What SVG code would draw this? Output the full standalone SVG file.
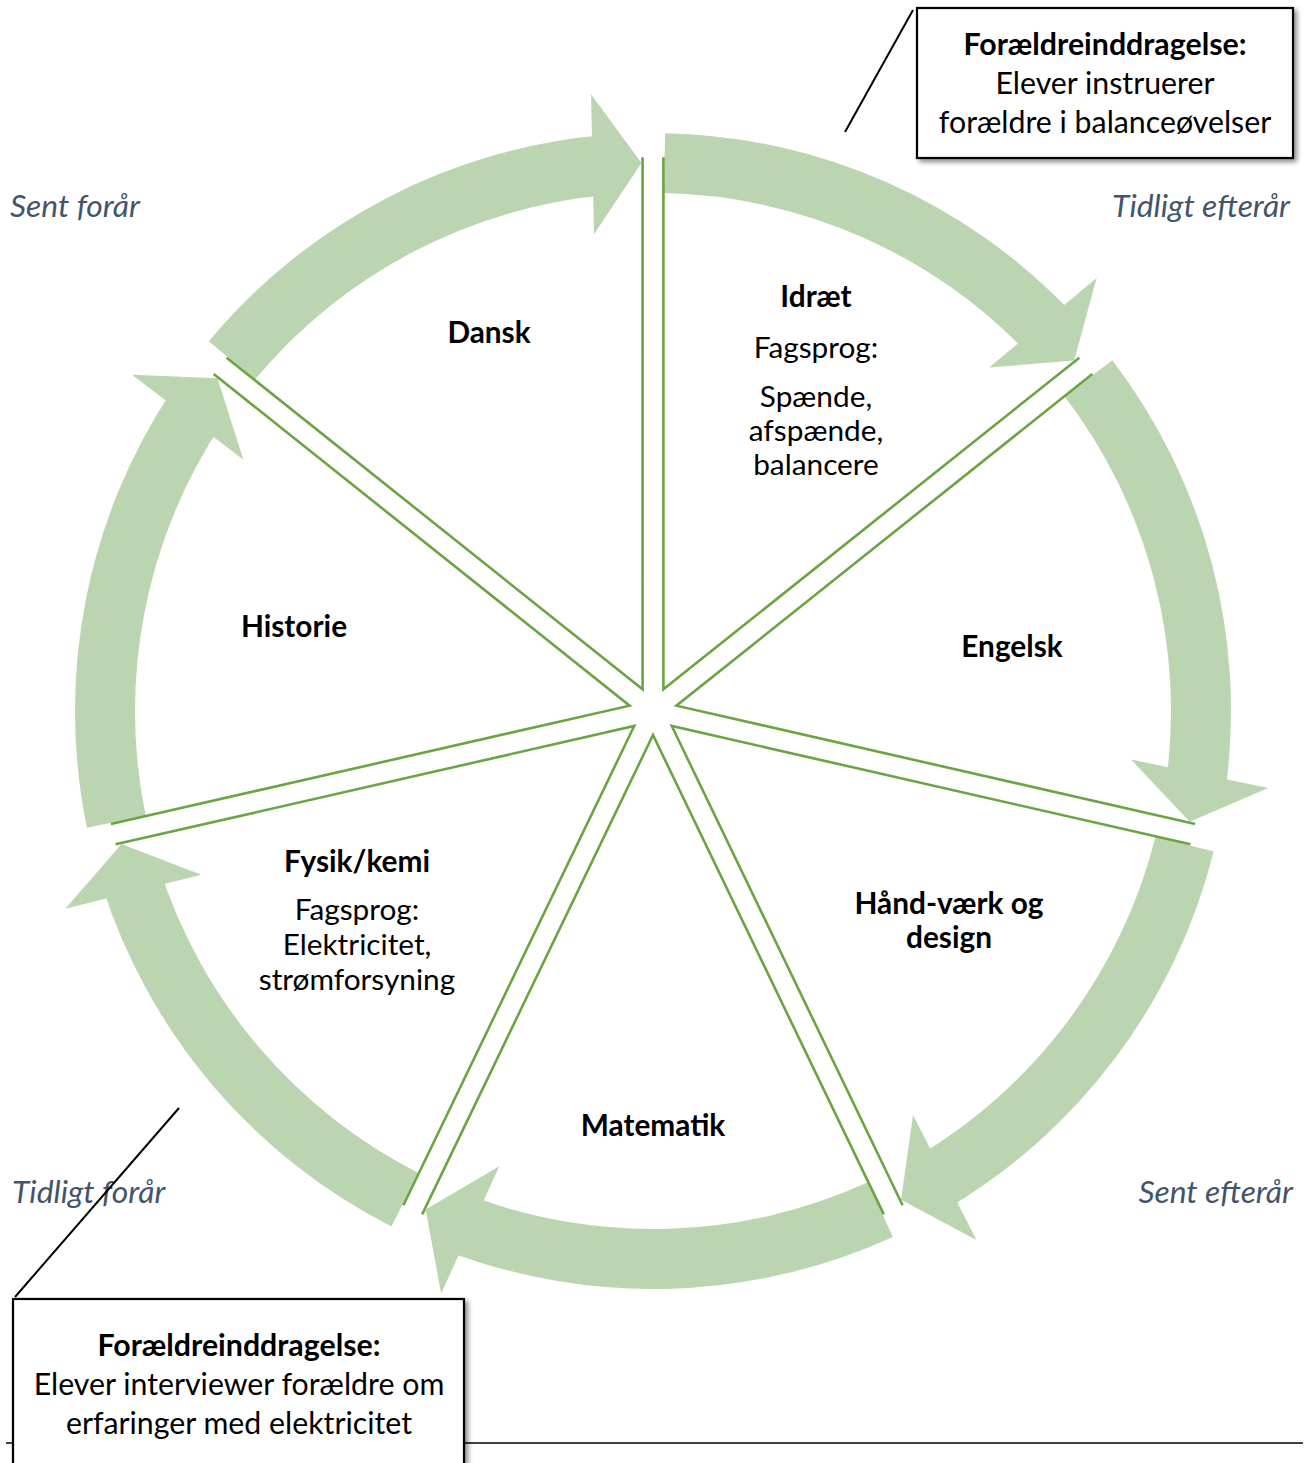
<svg xmlns="http://www.w3.org/2000/svg" xmlns:xlink="http://www.w3.org/1999/xlink" width="1308" height="1463" viewBox="0 0 1308 1463">
<style>
.band{fill:#BCD5B1}
.slice{fill:none;stroke:#6AA542;stroke-width:2.6;stroke-linejoin:miter}
text{font-family:Lato,"Noto Sans",sans-serif;font-size:29.8px;fill:#000;text-anchor:middle}
.b{font-weight:bold}
.bx{font-size:30.3px}
.season{font-style:italic;fill:#44546A;font-size:31.8px}
.box{fill:#fff;stroke:#000;stroke-width:2.2}
.lead{stroke:#000;stroke-width:2;fill:none}
</style>
<defs>
<g id="arrow">
<path class="band" d="M578 0 A578 578 0 0 1 405.64 411.75 L363.53 369.01 A518 518 0 0 0 518 0 Z"/>
<path class="band" d="M359.31 413.76 L442.21 434.48 L350.41 328.78 Z"/>
</g>
<path id="slice" class="slice" d="M503.32 -230.83 L24 0 L503.32 230.83"/>
<filter id="shadow" x="-10%" y="-10%" width="125%" height="130%">
<feDropShadow dx="3" dy="3" stdDeviation="2.5" flood-color="#000" flood-opacity="0.45"/>
</filter>
</defs>
<line x1="6" y1="1443" x2="1303" y2="1443" stroke="#000" stroke-width="1.5"/>
<g id="connectors">
<use xlink:href="#arrow" transform="translate(653,711) rotate(-88.8)"/>
<use xlink:href="#arrow" transform="translate(653,711) rotate(-37.3714)"/>
<use xlink:href="#arrow" transform="translate(653,711) rotate(14.0571)"/>
<use xlink:href="#arrow" transform="translate(653,711) rotate(65.4857)"/>
<use xlink:href="#arrow" transform="translate(653,711) rotate(116.9143)"/>
<use xlink:href="#arrow" transform="translate(653,711) rotate(168.3429)"/>
<use xlink:href="#arrow" transform="translate(653,711) rotate(219.7714)"/>
</g>
<g id="idraet">
<use xlink:href="#slice" transform="translate(653,711) rotate(-64.2857)"/>
<text class="b" x="816" y="307">Idræt</text>
<text x="816" y="358">Fagsprog:</text>
<text x="816" y="407">Spænde,</text>
<text x="816" y="441">afspænde,</text>
<text x="816" y="475">balancere</text>
</g>
<g id="engelsk">
<use xlink:href="#slice" transform="translate(653,711) rotate(-12.8571)"/>
<text class="b" x="1012" y="657">Engelsk</text>
</g>
<g id="haandvaerk">
<use xlink:href="#slice" transform="translate(653,711) rotate(38.5714)"/>
<text class="b" x="949" y="914">Hånd-værk og</text>
<text class="b" x="949" y="948">design</text>
</g>
<g id="matematik">
<use xlink:href="#slice" transform="translate(653,711) rotate(90)"/>
<text class="b" x="653" y="1136">Matematik</text>
</g>
<g id="fysik">
<use xlink:href="#slice" transform="translate(653,711) rotate(141.4286)"/>
<text class="b" x="357" y="872">Fysik/kemi</text>
<text x="357" y="920">Fagsprog:</text>
<text x="357" y="955">Elektricitet,</text>
<text x="357" y="990">strømforsyning</text>
</g>
<g id="historie">
<use xlink:href="#slice" transform="translate(653,711) rotate(192.8571)"/>
<text class="b" x="294" y="637">Historie</text>
</g>
<g id="dansk">
<use xlink:href="#slice" transform="translate(653,711) rotate(244.2857)"/>
<text class="b" x="489" y="343">Dansk</text>
</g>
<g id="seasons">
<text class="season" x="10" y="217" style="text-anchor:start">Sent forår</text>
<text class="season" x="1290" y="217" style="text-anchor:end">Tidligt efterår</text>
<text class="season" x="12" y="1203" style="text-anchor:start">Tidligt forår</text>
<text class="season" x="1293" y="1203" style="text-anchor:end">Sent efterår</text>
</g>
<g id="callout-top">
<line class="lead" x1="913" y1="10" x2="845" y2="132"/>
<rect class="box" x="917" y="8" width="376" height="150" filter="url(#shadow)"/>
<text class="b bx" x="1105" y="55">Forældreinddragelse:</text>
<text class="bx" x="1105" y="94">Elever instruerer</text>
<text class="bx" x="1105" y="133">forældre i balanceøvelser</text>
</g>
<g id="callout-bottom">
<line class="lead" x1="15" y1="1297" x2="179" y2="1108"/>
<rect class="box" x="13" y="1299" width="451" height="180" filter="url(#shadow)"/>
<text class="b bx" x="239" y="1356">Forældreinddragelse:</text>
<text class="bx" x="239" y="1395">Elever interviewer forældre om</text>
<text class="bx" x="239" y="1434">erfaringer med elektricitet</text>
</g>
</svg>
